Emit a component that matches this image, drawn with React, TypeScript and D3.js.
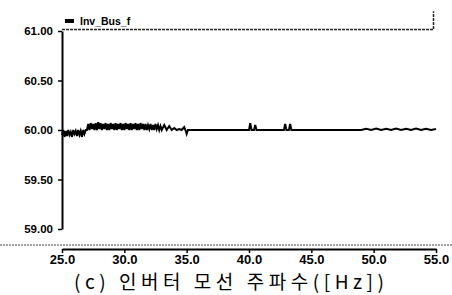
import React, { useEffect, useRef } from 'react';
import * as d3 from 'd3';

// Inv_Bus_f trace (time [s], frequency [Hz])
const startTimes = [25.0, 25.1, 25.2, 25.3, 25.4, 25.5, 25.6, 25.7, 25.8, 25.9, 26.0, 26.1, 26.2, 26.3, 26.4, 26.5, 26.6, 26.7, 26.8, 26.9, 27.0];
const startValues = [59.95, 60.0, 59.93, 59.99, 59.94, 60.0, 59.95, 59.98, 59.93, 60.0, 59.96, 59.99, 59.94, 60.0, 59.95, 59.99, 59.93, 60.0, 59.96, 60.0, 60.0];

const bandTimes = [
    27.1, 27.2, 27.3, 27.4, 27.5, 27.6, 27.7, 27.8, 27.9, 28.0,
    28.1, 28.2, 28.3, 28.4, 28.5, 28.6, 28.7, 28.8, 28.9, 29.0,
    29.1, 29.2, 29.3, 29.4, 29.5, 29.6, 29.7, 29.8, 29.9, 30.0,
    30.1, 30.2, 30.3, 30.4, 30.5, 30.6, 30.7, 30.8, 30.9, 31.0,
    31.1, 31.2, 31.3, 31.4, 31.5, 31.6, 31.7, 31.8, 31.9, 32.0,
    32.1, 32.2, 32.3, 32.4, 32.5, 32.6, 32.7, 32.8, 32.9, 33.0,
    33.2, 33.4, 33.6, 33.8, 34.0, 34.2, 34.4, 34.6, 34.8, 34.9,
];
const bandValues = [
    60.06, 60.0, 60.07, 60.01, 60.06, 60.0, 60.07, 60.0, 60.08, 60.01,
    60.07, 60.0, 60.06, 60.01, 60.07, 60.0, 60.06, 60.0, 60.07, 60.01,
    60.06, 60.0, 60.07, 60.0, 60.06, 60.01, 60.07, 60.0, 60.06, 60.0,
    60.07, 60.01, 60.06, 60.0, 60.07, 60.0, 60.06, 60.01, 60.07, 60.0,
    60.06, 60.0, 60.07, 60.01, 60.06, 60.0, 60.06, 60.0, 60.05, 60.01,
    60.06, 60.0, 60.05, 60.0, 60.06, 60.01, 60.05, 60.0, 60.04, 60.0,
    60.05, 60.0, 60.04, 60.0, 60.02, 60.0, 60.01, 60.0, 60.03, 60.0,
];

const tailTimes = [35.0, 35.1, 35.3, 40.0, 40.1, 40.2, 40.4, 40.5, 40.6, 42.8, 42.9, 43.0, 43.2, 43.3, 43.4, 49.0, 49.4, 49.8, 50.2, 50.6, 51.0, 51.4, 51.8, 52.2, 52.6, 53.0, 53.4, 53.8, 54.2, 54.6, 55.0];
const tailValues = [59.96, 60.0, 60.0, 60.0, 60.07, 60.0, 60.0, 60.05, 60.0, 60.0, 60.06, 60.0, 60.0, 60.06, 60.0, 60.0, 60.012, 60.0, 60.015, 60.0, 60.012, 60.0, 60.015, 60.0, 60.012, 60.0, 60.015, 60.0, 60.012, 60.0, 60.01];

// upper trace along the top of the plot
const topTimes = [25.0, 54.8, 54.8];
const topValues = [61.015, 61.015, 61.2];

const yTicks = [59.0, 59.5, 60.0, 60.5, 61.0];
const xTicks = [25, 30, 35, 40, 45, 50, 55];
const legendLabel = 'Inv_Bus_f';
const caption = '(c) 인버터 모선 주파수([Hz])';

const App: React.FC = () => {
    const ref = useRef<SVGSVGElement>(null);

    useEffect(() => {
        const svg = d3.select(ref.current);
        svg.selectAll('*').remove();

        const width = 452;
        const height = 295;

        const x = d3.scaleLinear().domain([25, 55]).range([62, 436]);
        const y = d3.scaleLinear().domain([59, 61]).range([229, 31]);

        svg.append('rect').attr('width', width).attr('height', height).attr('fill', '#fff');

        const times = [...startTimes, ...bandTimes, ...tailTimes];
        const values = [...startValues, ...bandValues, ...tailValues];
        const pts: [number, number][] = times.map((t, i) => [t, values[i]]);

        const line = d3.line<[number, number]>()
            .x(d => x(d[0]))
            .y(d => y(d[1]));

        // top trace
        svg.append('path')
            .attr('d', line(topTimes.map((t, i) => [t, topValues[i]] as [number, number])))
            .attr('fill', 'none')
            .attr('stroke', '#222')
            .attr('stroke-width', 1.5)
            .attr('stroke-dasharray', '3,1');

        // main trace
        svg.append('path')
            .attr('d', line(pts))
            .attr('fill', 'none')
            .attr('stroke', '#000')
            .attr('stroke-width', 2);

        // y axis
        const yAxis = svg.append('g').attr('transform', 'translate(62,0)')
            .call(d3.axisLeft(y).tickValues(yTicks).tickSize(4).tickSizeOuter(0).tickFormat(d3.format('.2f')));
        yAxis.select('.domain').attr('stroke-width', 2);
        yAxis.selectAll('line').attr('stroke-width', 1.5);
        yAxis.selectAll('text')
            .attr('font-family', 'Liberation Sans, Arial, sans-serif')
            .attr('font-weight', 'bold')
            .attr('font-size', 11.5)
            .attr('x', -9)
            .attr('fill', '#000');

        // dotted baseline across the page
        svg.append('line')
            .attr('x1', 0).attr('x2', width)
            .attr('y1', 245).attr('y2', 245)
            .attr('stroke', '#444')
            .attr('stroke-width', 1)
            .attr('stroke-dasharray', '2,1');

        // x axis
        const xAxis = svg.append('g').attr('transform', 'translate(0,249)')
            .call(d3.axisBottom(x).tickValues(xTicks).tickSize(4).tickSizeOuter(0).tickFormat(d3.format('.1f')));
        xAxis.select('.domain').attr('stroke-width', 2);
        xAxis.selectAll('line').attr('stroke-width', 1.5);
        xAxis.selectAll('text')
            .attr('font-family', 'Liberation Sans, Arial, sans-serif')
            .attr('font-weight', 'bold')
            .attr('font-size', 13)
            .attr('y', 6)
            .attr('fill', '#000');

        // legend
        svg.append('rect').attr('x', 65).attr('y', 19).attr('width', 9).attr('height', 4).attr('fill', '#000');
        svg.append('text')
            .attr('x', 80).attr('y', 25)
            .attr('font-family', 'Liberation Sans, Arial, sans-serif')
            .attr('font-weight', 'bold')
            .attr('font-size', 10.5)
            .attr('fill', '#000')
            .text(legendLabel);

        // caption
        svg.append('text')
            .attr('x', 229).attr('y', 289)
            .attr('text-anchor', 'middle')
            .attr('font-family', 'Noto Sans CJK KR, sans-serif')
            .attr('font-size', 19)
            .attr('textLength', 310)
            .attr('lengthAdjust', 'spacing')
            .attr('fill', '#000')
            .text(caption);
    }, []);

    return <svg ref={ref} width="452" height="295" style={{ position: 'absolute', left: 0, top: 0 }}></svg>;
};

export default App;
